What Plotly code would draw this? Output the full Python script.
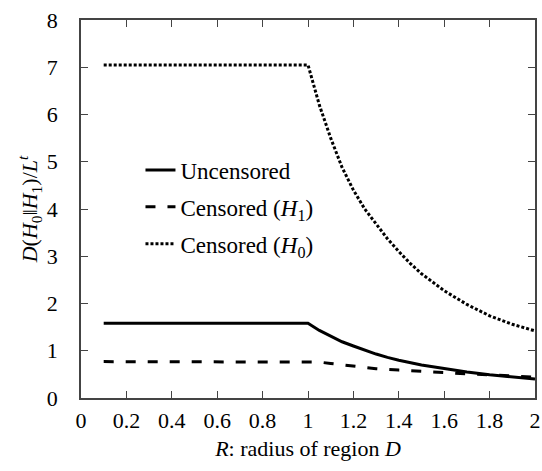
import plotly.graph_objects as go

# Data
R_unc = [0.1, 1.0, 1.05, 1.1, 1.15, 1.2, 1.25, 1.3, 1.35, 1.4, 1.5, 1.6, 1.7, 1.8, 1.9, 2.0]
D_unc = [1.58, 1.58, 1.43, 1.31, 1.19, 1.10, 1.01, 0.93, 0.86, 0.80, 0.70, 0.62, 0.55, 0.49, 0.44, 0.40]

R_h1 = [0.1, 1.0, 1.05, 1.1, 1.2, 1.3, 1.4, 1.5, 1.6, 1.7, 1.8, 1.9, 2.0]
D_h1 = [0.77, 0.77, 0.76, 0.73, 0.67, 0.62, 0.59, 0.56, 0.54, 0.51, 0.49, 0.46, 0.44]

R_h0 = [0.1, 1.0, 1.05, 1.1, 1.15, 1.2, 1.25, 1.3, 1.35, 1.4, 1.45, 1.5, 1.6, 1.7, 1.8, 1.9, 2.0]
D_h0 = [7.05, 7.05, 6.2, 5.5, 4.88, 4.4, 4.0, 3.68, 3.37, 3.1, 2.85, 2.63, 2.27, 1.98, 1.74, 1.56, 1.42]

names = ["Uncensored", "Censored (<i>H</i><sub>1</sub>)", "Censored (<i>H</i><sub>0</sub>)"]
x_ticks = [0, 0.2, 0.4, 0.6, 0.8, 1, 1.2, 1.4, 1.6, 1.8, 2]
x_labels = ["0", "0.2", "0.4", "0.6", "0.8", "1", "1.2", "1.4", "1.6", "1.8", "2"]
y_ticks = [0, 1, 2, 3, 4, 5, 6, 7, 8]
y_labels = ["0", "1", "2", "3", "4", "5", "6", "7", "8"]

FONT = "Liberation Serif"
AX = "#444"

fig = go.Figure()
fig.add_trace(go.Scatter(x=R_unc, y=D_unc, mode="lines", name=names[0], legendgroup="a",
                         line=dict(color="black", width=3, dash="solid")))
fig.add_trace(go.Scatter(x=R_h1, y=D_h1, mode="lines", name=names[1], legendgroup="b",
                         line=dict(color="black", width=3, dash="10px,12px")))
fig.add_trace(go.Scatter(x=R_h0, y=D_h0, mode="lines", name=names[2], legendgroup="c",
                         line=dict(color="black", width=3, dash="3px,2px")))

fig.update_layout(
    template="none",
    width=542, height=471,
    margin=dict(l=81, r=7, t=20, b=73, pad=0),
    paper_bgcolor="white", plot_bgcolor="white",
    font=dict(family=FONT, size=22, color="black"),
    xaxis=dict(range=[0, 2], tickvals=x_ticks, ticktext=x_labels, automargin=False,
               ticklabelposition="outside", ticklabelstandoff=2,
               showgrid=False, zeroline=False, showline=True, linecolor=AX, linewidth=1.5,
               mirror="ticks", ticks="inside", ticklen=7, tickcolor=AX, tickwidth=1,
               tickfont=dict(family=FONT, size=22, color="black"),
               title=dict(text="<i>R</i>: radius of region <i>D</i>", standoff=8,
                          font=dict(family=FONT, size=22))),
    yaxis=dict(range=[0, 8], tickvals=y_ticks, ticktext=y_labels, automargin=False,
               ticklabelposition="outside", ticklabelstandoff=17,
               showgrid=False, zeroline=False, showline=True, linecolor=AX, linewidth=1.5,
               mirror="ticks", ticks="inside", ticklen=7, tickcolor=AX, tickwidth=1,
               tickfont=dict(family=FONT, size=22, color="black"),
               title=dict(text="<i>D</i>(<i>H</i><sub>0</sub>‖<i>H</i><sub>1</sub>)/<i>L</i><sup><i>t</i></sup>",
                          standoff=3, font=dict(family=FONT, size=22))),
    legend=dict(x=0.131, y=0.66, xanchor="left", yanchor="top", bgcolor="rgba(0,0,0,0)",
                font=dict(family=FONT, size=23), traceorder="grouped", tracegroupgap=4),
    showlegend=True,
)

fig.write_html("out.html")
